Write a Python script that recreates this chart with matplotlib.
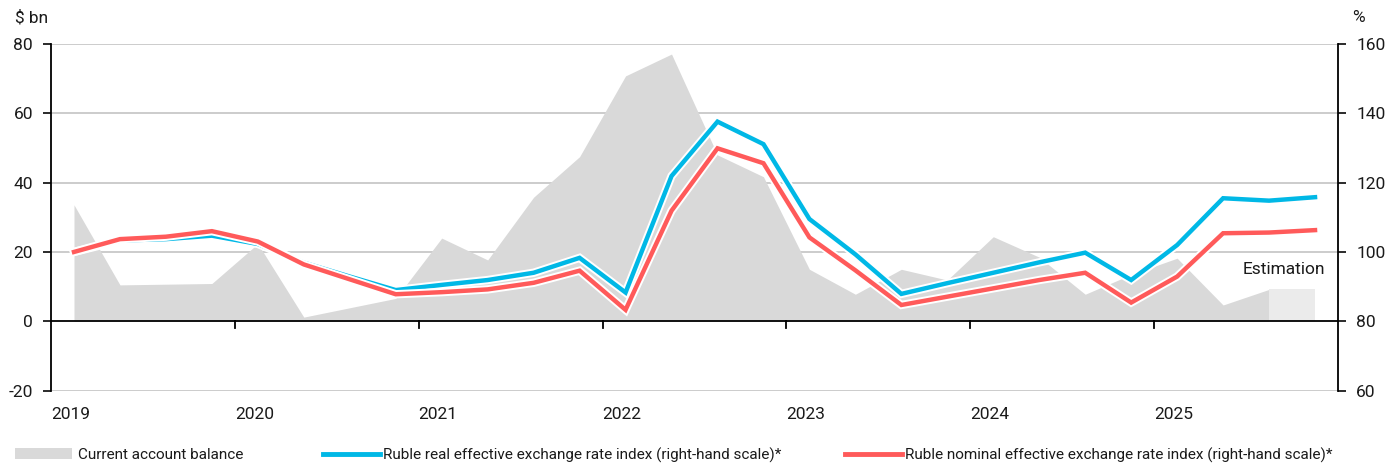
import numpy as np
import matplotlib
matplotlib.use('Agg')
import matplotlib.pyplot as plt
import matplotlib.patheffects as pe
from matplotlib.patches import Patch
from matplotlib.lines import Line2D
import matplotlib.transforms as mtransforms

plt.rcParams['font.family'] = ['Roboto', 'DejaVu Sans']
plt.rcParams['font.size'] = 12.5
plt.rcParams['axes.unicode_minus'] = False
plt.rcParams['text.color'] = '#1a1a1a'
plt.rcParams['ytick.color'] = '#1a1a1a'

# quarterly data, 2019Q1 .. 2025Q4
years = ['2019', '2020', '2021', '2022', '2023', '2024', '2025']
current_account = [33.6, 10.5, 10.7, 10.9, 22.4, 1.2, 3.9, 6.6,
                   24.0, 17.7, 35.8, 47.5, 70.8, 77.1, 48.0, 41.7,
                   15.0, 7.8, 15.0, 11.9, 24.4, 18.5, 7.8, 13.5,
                   18.2, 4.7, 9.2, 9.2]
reer = [100.0, 103.3, 103.7, 104.7, 102.3, 96.9, 92.9, 89.0,
        90.5, 91.9, 94.0, 98.3, 88.3, 121.9, 137.6, 131.1,
        109.5, 99.3, 87.9, 91.0, 94.0, 97.0, 99.8, 91.9,
        102.0, 115.5, 114.8, 115.8]
neer = [100.0, 103.7, 104.4, 106.0, 103.0, 96.4, 92.1, 87.8,
        88.4, 89.2, 91.1, 94.6, 83.3, 111.9, 129.9, 125.6,
        104.2, 94.7, 84.7, 87.1, 89.5, 91.9, 94.0, 85.4,
        92.9, 105.4, 105.6, 106.3]
n_est = 2  # last quarters are estimates

x = np.arange(len(current_account))
ca = np.array(current_account)

fig = plt.figure(figsize=(13.9, 4.66), dpi=100)
ax = fig.add_axes([0.0367, 0.1618, 0.9259, 0.7438])

grey = '#d9d9d9'
grey_est = '#ebebeb'
blue = '#00b8e6'
red = '#ff5a5a'
grid_c = '#c8c8c8'

k = len(x) - n_est
ax.fill_between(x[:k + 1], 0, ca[:k + 1], color=grey, lw=0, zorder=1)
ax.fill_between(x[k:], 0, ca[k:], color=grey_est, lw=0, zorder=1)

ax.set_xlim(-0.5, len(x) - 0.5)
ax.set_ylim(-20, 80)
ax.set_yticks(np.arange(-20, 81, 20))
for v in [-20, 20, 40, 60, 80]:
    ax.axhline(v, color=grid_c, lw=1.3, zorder=0)
ax.axhline(0, color='black', lw=1.3, zorder=3)

ax.spines['top'].set_visible(False)
ax.spines['right'].set_visible(False)
ax.spines['bottom'].set_visible(False)
ax.spines['left'].set_linewidth(1.3)

# year-boundary ticks hang from the zero line
ax.set_xticks([])
for xi in np.arange(3.5, len(x) - 1, 4):
    ax.plot([xi, xi], [0, -1.8], color='black', lw=1.3, zorder=3, clip_on=False)
ax.tick_params(axis='y', direction='out', length=6, width=1.3, pad=7)

trans = mtransforms.blended_transform_factory(ax.transData, ax.transAxes)
for i, yr in enumerate(years):
    ax.text(i * 4 - 0.5, -0.07, yr, transform=trans, ha='left', va='center')

ax.text(27.23, 15, 'Estimation', ha='right', va='center', zorder=4)

ax2 = ax.twinx()
ax2.set_ylim(60, 160)
ax2.set_yticks(np.arange(60, 161, 20))
for s in ['top', 'left', 'bottom']:
    ax2.spines[s].set_visible(False)
ax2.spines['right'].set_linewidth(1.3)
ax2.tick_params(axis='y', direction='out', length=6, width=1.3, pad=7)

halo = [pe.Stroke(linewidth=6, foreground='white'), pe.Normal()]
ax2.plot(x, reer, color=blue, lw=3.2, path_effects=halo, solid_joinstyle='miter')
ax2.plot(x, neer, color=red, lw=3.2, path_effects=halo, solid_joinstyle='miter')

fig.text(15 / 1390, 1 - 18 / 466, '$ bn', ha='left', va='center')
fig.text(1352 / 1390, 1 - 18 / 466, '%', ha='left', va='center')

leg_y = 1 - 455 / 466
items = [
    (15, Patch(facecolor=grey, edgecolor='none'), 'Current account balance', 0.4),
    (323, Line2D([], [], color=blue, lw=3.5), 'Ruble real effective exchange rate index (right-hand scale)*', 0.25),
    (845, Line2D([], [], color=red, lw=3.5), 'Ruble nominal effective exchange rate index (right-hand scale)*', 0.25),
]
for px, h, lab, tp in items:
    fig.legend([h], [lab], loc='center left', bbox_to_anchor=(px / 1390, leg_y),
               frameon=False, borderpad=0, borderaxespad=0, handlelength=3.7,
               handleheight=0.7, handletextpad=tp, fontsize=11)

plt.savefig('out.png', dpi=100)
